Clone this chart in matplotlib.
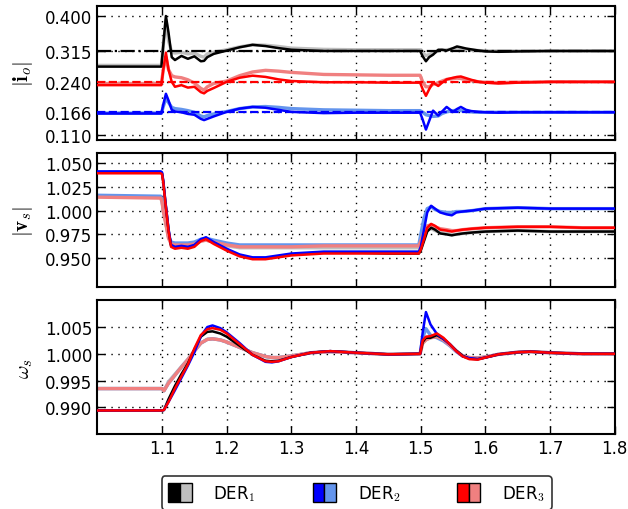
import matplotlib
matplotlib.use('Agg')
import matplotlib.pyplot as plt
from matplotlib.patches import Rectangle
from matplotlib.legend_handler import HandlerTuple

plt.rcParams['mathtext.fontset'] = 'cm'
plt.rcParams['font.size'] = 12

# ---------------- |i_o| ----------------
t_io = [1.0, 1.099, 1.102, 1.106, 1.110, 1.115, 1.12, 1.13, 1.14, 1.15, 1.16, 1.165, 1.17, 1.18,
        1.20, 1.22, 1.24, 1.26, 1.28, 1.30, 1.35, 1.40, 1.45,
        1.499, 1.503, 1.508, 1.513, 1.519, 1.527, 1.533, 1.540, 1.550, 1.556, 1.562, 1.570, 1.578,
        1.59, 1.60, 1.62, 1.65, 1.70, 1.75, 1.80]
io_k = [0.277, 0.277, 0.330, 0.400, 0.360, 0.300, 0.293, 0.303, 0.296, 0.302, 0.290, 0.291, 0.300, 0.308,
        0.316, 0.324, 0.330, 0.327, 0.322, 0.318, 0.315, 0.315, 0.315,
        0.315, 0.302, 0.290, 0.300, 0.306, 0.318, 0.318, 0.316, 0.322, 0.326, 0.324, 0.321, 0.319,
        0.316, 0.314, 0.313, 0.314, 0.315, 0.315, 0.315]
io_kl = [0.280, 0.280, 0.330, 0.390, 0.340, 0.312, 0.310, 0.312, 0.308, 0.310, 0.302, 0.300, 0.308, 0.312,
         0.318, 0.325, 0.330, 0.329, 0.326, 0.322, 0.319, 0.318, 0.318,
         0.318, 0.310, 0.304, 0.306, 0.310, 0.315, 0.317, 0.318, 0.320, 0.322, 0.321, 0.319, 0.317,
         0.316, 0.315, 0.315, 0.315, 0.315, 0.315, 0.315]
io_r = [0.232, 0.232, 0.270, 0.311, 0.270, 0.240, 0.228, 0.232, 0.226, 0.228, 0.215, 0.212, 0.218, 0.225,
        0.240, 0.250, 0.255, 0.252, 0.246, 0.242, 0.239, 0.239, 0.238,
        0.238, 0.222, 0.206, 0.222, 0.238, 0.230, 0.238, 0.246, 0.250, 0.252, 0.253, 0.249, 0.245,
        0.240, 0.238, 0.236, 0.238, 0.240, 0.240, 0.240]
io_rl = [0.236, 0.236, 0.270, 0.300, 0.270, 0.255, 0.252, 0.250, 0.245, 0.237, 0.224, 0.220, 0.228, 0.236,
         0.242, 0.255, 0.264, 0.268, 0.266, 0.263, 0.258, 0.257, 0.256,
         0.256, 0.240, 0.228, 0.228, 0.234, 0.238, 0.242, 0.246, 0.248, 0.249, 0.248, 0.245, 0.243,
         0.240, 0.239, 0.238, 0.239, 0.240, 0.240, 0.240]
io_b = [0.163, 0.163, 0.185, 0.211, 0.195, 0.172, 0.168, 0.166, 0.162, 0.160, 0.150, 0.147, 0.150, 0.156,
        0.167, 0.175, 0.179, 0.177, 0.172, 0.167, 0.164, 0.165, 0.165,
        0.165, 0.148, 0.124, 0.145, 0.170, 0.158, 0.168, 0.179, 0.167, 0.174, 0.179, 0.172, 0.169,
        0.167, 0.166, 0.165, 0.166, 0.166, 0.166, 0.166]
io_bl = [0.164, 0.164, 0.180, 0.200, 0.190, 0.178, 0.175, 0.173, 0.170, 0.166, 0.157, 0.155, 0.158, 0.162,
         0.168, 0.175, 0.179, 0.180, 0.178, 0.175, 0.172, 0.171, 0.170,
         0.170, 0.166, 0.160, 0.158, 0.156, 0.157, 0.163, 0.167, 0.170, 0.171, 0.170, 0.168, 0.167,
         0.166, 0.166, 0.166, 0.166, 0.166, 0.166, 0.166]
io_ref = [0.315, 0.240, 0.166]

# ---------------- |v_s| ----------------
t_vs = [1.0, 1.098, 1.100, 1.102, 1.105, 1.110, 1.114, 1.12, 1.13, 1.14, 1.15, 1.16, 1.168, 1.18,
        1.20, 1.22, 1.24, 1.26, 1.28, 1.30, 1.35, 1.40, 1.45,
        1.497, 1.500, 1.505, 1.510, 1.516, 1.522, 1.530, 1.540, 1.548, 1.555, 1.565, 1.58,
        1.60, 1.65, 1.70, 1.75, 1.80]
vs_k = [1.040, 1.040, 1.039, 1.030, 1.010, 0.980, 0.963, 0.961, 0.962, 0.961, 0.963, 0.969, 0.971, 0.966,
        0.959, 0.953, 0.950, 0.950, 0.952, 0.954, 0.956, 0.956, 0.955,
        0.955, 0.958, 0.968, 0.978, 0.982, 0.980, 0.976, 0.975, 0.974, 0.975, 0.976, 0.977,
        0.978, 0.979, 0.978, 0.978, 0.978]
vs_b = [1.041, 1.041, 1.040, 1.031, 1.011, 0.981, 0.964, 0.962, 0.963, 0.962, 0.964, 0.970, 0.972, 0.967,
        0.960, 0.954, 0.951, 0.951, 0.953, 0.955, 0.957, 0.957, 0.957,
        0.957, 0.962, 0.980, 0.998, 1.005, 1.002, 0.998, 0.996, 0.995, 0.998, 0.999, 1.000,
        1.002, 1.003, 1.002, 1.002, 1.002]
vs_r = [1.039, 1.039, 1.038, 1.029, 1.009, 0.979, 0.962, 0.960, 0.961, 0.960, 0.962, 0.968, 0.970, 0.965,
        0.958, 0.952, 0.949, 0.949, 0.951, 0.953, 0.955, 0.955, 0.955,
        0.955, 0.959, 0.970, 0.982, 0.986, 0.984, 0.980, 0.979, 0.978, 0.979, 0.980, 0.981,
        0.982, 0.983, 0.983, 0.982, 0.982]
vs_kl = [1.015, 1.014, 1.010, 1.000, 0.990, 0.972, 0.966, 0.964, 0.964, 0.964, 0.965, 0.968, 0.969, 0.967,
         0.963, 0.961, 0.961, 0.961, 0.961, 0.961, 0.961, 0.961, 0.961,
         0.961, 0.966, 0.975, 0.980, 0.981, 0.979, 0.977, 0.976, 0.975, 0.975, 0.976, 0.977,
         0.978, 0.979, 0.978, 0.978, 0.978]
vs_bl = [1.016, 1.015, 1.011, 1.001, 0.991, 0.973, 0.967, 0.966, 0.966, 0.966, 0.967, 0.970, 0.971, 0.969,
         0.966, 0.964, 0.964, 0.964, 0.964, 0.964, 0.964, 0.964, 0.964,
         0.964, 0.975, 0.992, 1.002, 1.004, 1.001, 0.999, 0.998, 0.998, 0.999, 0.999, 1.000,
         1.002, 1.003, 1.002, 1.002, 1.002]
vs_rl = [1.014, 1.013, 1.009, 0.999, 0.989, 0.971, 0.965, 0.964, 0.964, 0.964, 0.965, 0.968, 0.969, 0.967,
         0.964, 0.962, 0.962, 0.962, 0.962, 0.962, 0.963, 0.963, 0.963,
         0.963, 0.968, 0.978, 0.984, 0.985, 0.983, 0.981, 0.980, 0.979, 0.979, 0.980, 0.981,
         0.982, 0.983, 0.983, 0.982, 0.982]

# ---------------- omega_s ----------------
t_w = [1.0, 1.100, 1.103, 1.110, 1.120, 1.130, 1.140, 1.150, 1.160, 1.170, 1.178, 1.19, 1.20, 1.22,
       1.24, 1.26, 1.27, 1.28, 1.30, 1.33, 1.36, 1.40, 1.45,
       1.499, 1.503, 1.508, 1.515, 1.525, 1.535, 1.545, 1.555, 1.565, 1.575, 1.588,
       1.60, 1.62, 1.65, 1.67, 1.70, 1.75, 1.80]
w_k = [0.9894, 0.9894, 0.9895, 0.9915, 0.9940, 0.9962, 0.9982, 1.0008, 1.0032, 1.0041, 1.0042, 1.0038, 1.0032, 1.0015,
       0.9998, 0.9987, 0.9986, 0.9987, 0.9994, 1.0002, 1.0005, 1.0002, 0.9999,
       1.0000, 1.0022, 1.0030, 1.0030, 1.0035, 1.0028, 1.0018, 1.0006, 0.9996, 0.9991, 0.9990,
       0.9993, 0.9999, 1.0003, 1.0004, 1.0002, 1.0000, 1.0000]
w_b = [0.9894, 0.9894, 0.9895, 0.9910, 0.9932, 0.9955, 0.9978, 1.0003, 1.0033, 1.0050, 1.0053, 1.0048, 1.0040, 1.0020,
       0.9998, 0.9985, 0.9984, 0.9986, 0.9994, 1.0002, 1.0005, 1.0002, 0.9999,
       1.0000, 1.0040, 1.0078, 1.0055, 1.0037, 1.0028, 1.0018, 1.0005, 0.9995, 0.9992, 0.9990,
       0.9993, 0.9999, 1.0003, 1.0004, 1.0002, 1.0000, 1.0000]
w_r = [0.9894, 0.9894, 0.9895, 0.9910, 0.9935, 0.9958, 0.9980, 1.0010, 1.0035, 1.0046, 1.0048, 1.0045, 1.0038, 1.0018,
       0.9998, 0.9986, 0.9985, 0.9986, 0.9994, 1.0002, 1.0005, 1.0002, 0.9999,
       1.0000, 1.0025, 1.0032, 1.0033, 1.0038, 1.0030, 1.0018, 1.0005, 0.9995, 0.9990, 0.9989,
       0.9993, 0.9999, 1.0003, 1.0004, 1.0002, 1.0000, 1.0000]
w_kl = [0.9935, 0.9935, 0.9931, 0.9948, 0.9962, 0.9976, 0.9990, 1.0006, 1.0020, 1.0027, 1.0028, 1.0026, 1.0022, 1.0012,
        1.0002, 0.9995, 0.9993, 0.9993, 0.9996, 1.0002, 1.0004, 1.0002, 0.9999,
        1.0000, 1.0020, 1.0026, 1.0030, 1.0032, 1.0026, 1.0016, 1.0005, 0.9996, 0.9993, 0.9992,
        0.9994, 0.9999, 1.0003, 1.0004, 1.0002, 1.0000, 1.0000]
w_bl = [0.9935, 0.9935, 0.9931, 0.9945, 0.9960, 0.9975, 0.9989, 1.0005, 1.0020, 1.0027, 1.0028, 1.0026, 1.0022, 1.0012,
        1.0002, 0.9995, 0.9993, 0.9993, 0.9996, 1.0002, 1.0004, 1.0002, 0.9999,
        1.0000, 1.0030, 1.0047, 1.0035, 1.0030, 1.0024, 1.0015, 1.0004, 0.9996, 0.9993, 0.9992,
        0.9994, 0.9999, 1.0003, 1.0004, 1.0002, 1.0000, 1.0000]
w_rl = [0.9935, 0.9935, 0.9931, 0.9945, 0.9960, 0.9975, 0.9989, 1.0005, 1.0020, 1.0027, 1.0028, 1.0026, 1.0022, 1.0012,
        1.0002, 0.9995, 0.9993, 0.9993, 0.9996, 1.0002, 1.0004, 1.0002, 0.9999,
        1.0000, 1.0020, 1.0026, 1.0030, 1.0032, 1.0026, 1.0016, 1.0005, 0.9996, 0.9993, 0.9992,
        0.9994, 0.9999, 1.0003, 1.0004, 1.0002, 1.0000, 1.0000]

dark = ['#000000', '#0000ff', '#ff0000']
light = ['#bfbfbf', '#6495ed', '#f08080']
labels = ['DER$_1$', 'DER$_2$', 'DER$_3$']

fig, axes = plt.subplots(3, 1, figsize=(6.28, 5.10), dpi=100, sharex=True)
plt.subplots_adjust(left=0.155, right=0.979, top=0.986, bottom=0.147, hspace=0.1)

panels = [
    (t_io, [io_k, io_b, io_r], [io_kl, io_bl, io_rl], r'$|\mathbf{i}_o|$',
     [0.110, 0.166, 0.240, 0.315, 0.400], (0.099, 0.424)),
    (t_vs, [vs_k, vs_b, vs_r], [vs_kl, vs_bl, vs_rl], r'$|\mathbf{v}_s|$',
     [0.950, 0.975, 1.000, 1.025, 1.050], (0.92, 1.06)),
    (t_w, [w_k, w_b, w_r], [w_kl, w_bl, w_rl], r'$\omega_s$',
     [0.990, 0.995, 1.000, 1.005], (0.985, 1.010)),
]

for i, (ax, (t, dk, lt, ylab, yt, yl)) in enumerate(zip(axes, panels)):
    for y, c in zip(lt, light):
        ax.plot(t, y, color=c, lw=2.4, zorder=2)
    if i == 0:
        ax.plot([1.0, 1.8], [io_ref[0]] * 2, color='k', ls='-.', lw=1.6, zorder=3)
        ax.plot([1.0, 1.8], [io_ref[1]] * 2, color='r', ls='--', lw=1.6, zorder=3)
        ax.plot([1.0, 1.8], [io_ref[2]] * 2, color='b', ls='--', lw=1.6, zorder=3)
    for y, c in zip(dk, dark):
        ax.plot(t, y, color=c, lw=1.8, zorder=4)
    ax.set_xlim(1.0, 1.8)
    ax.set_ylim(*yl)
    ax.set_yticks(yt)
    ax.set_yticklabels(['%.3f' % v for v in yt])
    ax.set_ylabel(ylab, fontsize=15)
    ax.grid(True, color='k', ls=(0, (1, 4)), lw=1)
    ax.tick_params(direction='in', top=True, right=True, length=6, width=1, labelsize=12)
    for s in ax.spines.values():
        s.set_linewidth(1.5)

axes[2].set_xticks([1.1, 1.2, 1.3, 1.4, 1.5, 1.6, 1.7, 1.8])
axes[2].set_xticklabels(['1.1', '1.2', '1.3', '1.4', '1.5', '1.6', '1.7', '1.8'])
for ax in axes:
    ax.yaxis.set_label_coords(-0.12, 0.5)

handles = [(Rectangle((0, 0), 1, 1, fc=d, ec='k', lw=1), Rectangle((0, 0), 1, 1, fc=l, ec='k', lw=1))
           for d, l in zip(dark, light)]
leg = fig.legend(handles, labels, loc='upper center', bbox_to_anchor=(0.568, 0.064),
                 ncol=3, handler_map={tuple: HandlerTuple(ndivide=None, pad=0)},
                 handlelength=1.4, handleheight=1.3, handletextpad=1.3, columnspacing=3.4,
                 fancybox=True, fontsize=12, borderpad=0.4, borderaxespad=0)
leg.get_frame().set_edgecolor('k')
leg.get_frame().set_linewidth(1.2)

fig.savefig('out.png', dpi=100)
